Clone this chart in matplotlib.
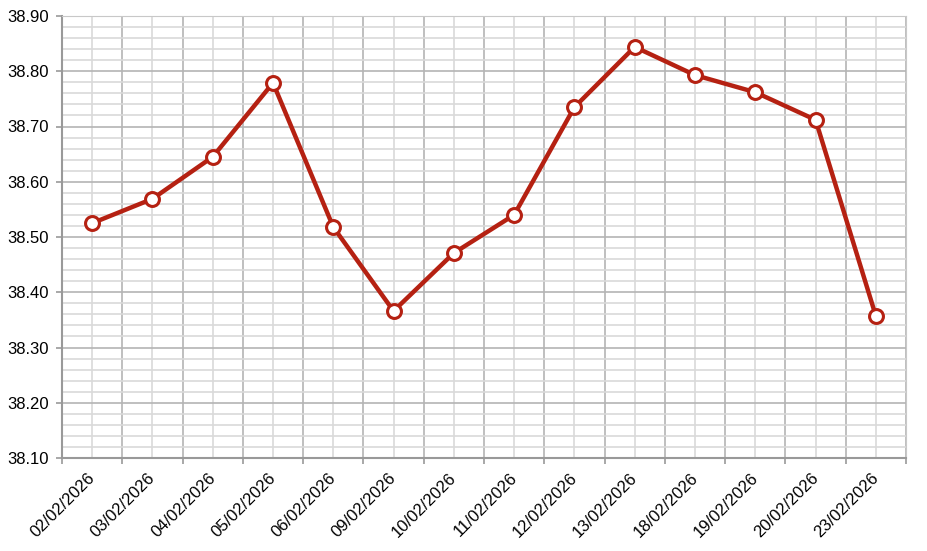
import matplotlib
matplotlib.use("Agg")
import matplotlib.pyplot as plt
import matplotlib.transforms as mtransforms
from matplotlib.ticker import MultipleLocator, FixedLocator, NullFormatter, FixedFormatter

dates = ["02/02/2026", "03/02/2026", "04/02/2026", "05/02/2026", "06/02/2026",
         "09/02/2026", "10/02/2026", "11/02/2026", "12/02/2026", "13/02/2026",
         "18/02/2026", "19/02/2026", "20/02/2026", "23/02/2026"]
values = [38.525, 38.569, 38.645, 38.779, 38.518, 38.366, 38.471, 38.540,
          38.735, 38.844, 38.793, 38.762, 38.712, 38.357]

plt.rcParams['font.family'] = ['Liberation Sans', 'DejaVu Sans']

fig = plt.figure(figsize=(9.28, 5.51), dpi=100)
ax = fig.add_axes([62/928, 1-458/551, 844/928, 442/551])

x = list(range(len(dates)))
ax.plot(x, values, color='#B52112', linewidth=3.2, marker='o', markersize=10,
        markerfacecolor='white', markeredgecolor='#B52112', markeredgewidth=2.2,
        zorder=3, clip_on=False)

ax.set_xlim(-0.5, len(dates) - 0.5)
ax.set_ylim(38.10, 38.90)

# x ticks: major at boundaries, minor at centers carrying labels
ax.xaxis.set_major_locator(FixedLocator([i - 0.5 for i in range(len(dates) + 1)]))
ax.xaxis.set_major_formatter(NullFormatter())
ax.xaxis.set_minor_locator(FixedLocator(x))
ax.xaxis.set_minor_formatter(FixedFormatter(dates))
ax.tick_params(axis='x', which='major', length=4.5, width=1.2, color='#999999', direction='out')
ax.tick_params(axis='x', which='minor', length=0, pad=9, labelsize=12)
offset = mtransforms.ScaledTranslation(-5/100, 0, fig.dpi_scale_trans)
for lbl in ax.xaxis.get_minorticklabels():
    lbl.set_rotation(45)
    lbl.set_ha('right')
    lbl.set_va('top')
    lbl.set_rotation_mode('anchor')
    lbl.set_transform(lbl.get_transform() + offset)

ax.yaxis.set_major_locator(MultipleLocator(0.1))
ax.yaxis.set_minor_locator(MultipleLocator(0.02))
ax.yaxis.set_major_formatter(matplotlib.ticker.FormatStrFormatter('%.2f'))
ax.tick_params(axis='y', which='major', length=4, width=1.2, color='#999999', labelsize=12, pad=5.5)
ax.tick_params(axis='y', which='minor', length=0)

ax.grid(which='major', color='#b4b4b4', linewidth=1.2, zorder=0)
ax.grid(which='minor', color='#d9d9d9', linewidth=1.2, zorder=0)
ax.set_axisbelow(True)

ax.spines['left'].set_color('#999999')
ax.spines['bottom'].set_color('#999999')
ax.spines['left'].set_linewidth(1.5)
ax.spines['bottom'].set_linewidth(1.5)
ax.spines['top'].set_color('#c8c8c8')
ax.spines['right'].set_color('#c8c8c8')

fig.savefig("out.png", dpi=100, facecolor='white')
